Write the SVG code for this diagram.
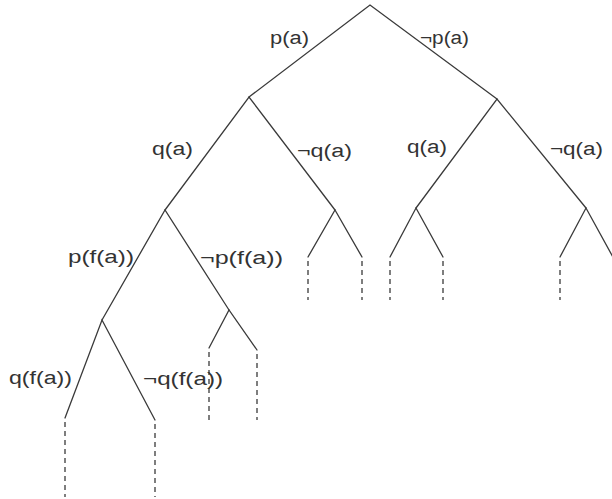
<svg xmlns="http://www.w3.org/2000/svg" width="612" height="499" viewBox="0 0 612 499">
<style>
.e{stroke:#3a3a3a;stroke-width:1.3;fill:none;stroke-linecap:round}
.d{stroke:#3a3a3a;stroke-width:1.3;fill:none;stroke-dasharray:5 4}
.t{font-family:"Liberation Sans",Arial,sans-serif;font-size:18px;fill:#333}
</style>
<rect width="612" height="499" fill="#fff"/>
<g id="connectors">
<polyline class="e" points="249,97 370,5 497,99"/>
<polyline class="e" points="165,210 249,97 335,210"/>
<polyline class="e" points="416,208 497,99 586,208"/>
<polyline class="e" points="102,320 165,210 229,310"/>
<polyline class="e" points="308,257 335,210 362,257"/>
<polyline class="e" points="390,257 416,208 443,257"/>
<polyline class="e" points="560,257 586,208 614,259"/>
<polyline class="e" points="209,348 229,310 257,350"/>
<polyline class="e" points="65,418 102,320 155,420"/>
<path class="d" d="M308,261V300M362,261V300M390,261V300M443,261V300M560,261V300M209,352V420M257,354V420M65,422V497M155,424V497"/>
</g>
<g id="labels">
<text class="t" x="270" y="44" textLength="39" lengthAdjust="spacingAndGlyphs">p(a)</text>
<text class="t" x="420" y="44" textLength="49" lengthAdjust="spacingAndGlyphs">¬p(a)</text>
<text class="t" x="152" y="155" textLength="41" lengthAdjust="spacingAndGlyphs">q(a)</text>
<text class="t" x="297" y="157" textLength="55" lengthAdjust="spacingAndGlyphs">¬q(a)</text>
<text class="t" x="407" y="153" textLength="40" lengthAdjust="spacingAndGlyphs">q(a)</text>
<text class="t" x="550" y="155" textLength="53" lengthAdjust="spacingAndGlyphs">¬q(a)</text>
<text class="t" x="68" y="263" textLength="66" lengthAdjust="spacingAndGlyphs">p(f(a))</text>
<text class="t" x="200" y="264" textLength="83" lengthAdjust="spacingAndGlyphs">¬p(f(a))</text>
<text class="t" x="9" y="384" textLength="63" lengthAdjust="spacingAndGlyphs">q(f(a))</text>
<text class="t" x="143" y="385" textLength="80" lengthAdjust="spacingAndGlyphs">¬q(f(a))</text>
</g>
</svg>
